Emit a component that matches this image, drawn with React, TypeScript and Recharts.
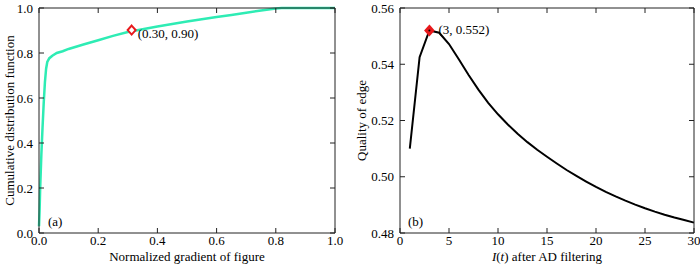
import { LineChart, Line, XAxis, YAxis, ReferenceDot, Label } from "recharts"

// (a) CDF of normalized gradient
const cdfX = [0, 0.002, 0.004, 0.008, 0.012, 0.016, 0.02, 0.024, 0.028, 0.035, 0.045, 0.06, 0.08, 0.1, 0.15, 0.2, 0.25, 0.3, 0.35, 0.4, 0.45, 0.5, 0.55, 0.6, 0.65, 0.7, 0.75, 0.8, 0.82, 0.9, 1.0]
const cdfY = [0.03, 0.1, 0.2, 0.35, 0.47, 0.58, 0.67, 0.73, 0.76, 0.777, 0.788, 0.8, 0.808, 0.818, 0.838, 0.857, 0.876, 0.893, 0.906, 0.918, 0.929, 0.94, 0.95, 0.96, 0.969, 0.979, 0.989, 0.998, 1.0, 1.0, 1.0]

// (b) edge quality vs iterations
const iterT = [1, 2, 3, 4, 5, 6, 7, 8, 9, 10, 11, 12, 13, 14, 15, 16, 17, 18, 19, 20, 21, 22, 23, 24, 25, 26, 27, 28, 29, 30]
const quality = [0.51, 0.5425, 0.552, 0.5512, 0.5472, 0.5418, 0.5362, 0.531, 0.5263, 0.5222, 0.5186, 0.5153, 0.5123, 0.5096, 0.5071, 0.5047, 0.5024, 0.5003, 0.4983, 0.4964, 0.4946, 0.493, 0.4915, 0.4901, 0.4888, 0.4876, 0.4865, 0.4855, 0.4846, 0.4837]

const ticksA = [0, 0.2, 0.4, 0.6, 0.8, 1.0]
const ticksBx = [0, 5, 10, 15, 20, 25, 30]
const ticksBy = [0.48, 0.5, 0.52, 0.54, 0.56]

const FONT = "'Liberation Serif', 'Times New Roman', serif"
const AXIS = "#222"

const cdfData = cdfX.map((x, i) => ({ x, y: cdfY[i] }))
const qualityData = iterT.map((x, i) => ({ x, y: quality[i] }))

const bottomTick = (digits: number) => (p: any) => (
  <g>
    <line x1={p.x} y1={p.y} x2={p.x} y2={p.y - 5} stroke={AXIS} />
    <text x={p.x} y={p.y + 12} textAnchor="middle" fontFamily={FONT} fontSize={13} fill="#000">
      {Number(p.payload.value).toFixed(digits)}
    </text>
  </g>
)

const leftTick = (digits: number) => (p: any) => (
  <g>
    <line x1={p.x} y1={p.y} x2={p.x + 5} y2={p.y} stroke={AXIS} />
    <text x={p.x - 6} y={p.y + 4.5} textAnchor="end" fontFamily={FONT} fontSize={13} fill="#000">
      {Number(p.payload.value).toFixed(digits)}
    </text>
  </g>
)

const topTick = (p: any) => <line x1={p.x} y1={p.y} x2={p.x} y2={p.y + 5} stroke={AXIS} />
const rightTick = (p: any) => <line x1={p.x} y1={p.y} x2={p.x - 5} y2={p.y} stroke={AXIS} />

const diamond = (cx: number, cy: number, fill: string) => (
  <polygon
    points={`${cx},${cy - 4.5} ${cx + 4},${cy} ${cx},${cy + 4.5} ${cx - 4},${cy}`}
    fill={fill}
    stroke="#e8191c"
    strokeWidth={2}
  />
)

// mirrored frame axes (top + right), ticks pointing inward
const frameAxes = (xDomain: number[], xTicks: number[], yDomain: number[], yTicks: number[]) => [
  <XAxis
    key="top"
    xAxisId="top"
    orientation="top"
    dataKey="x"
    type="number"
    domain={xDomain}
    ticks={xTicks}
    height={1}
    tickSize={0}
    tickMargin={0}
    tick={topTick}
    axisLine={{ stroke: AXIS }}
    interval={0}
  />,
  <YAxis
    key="right"
    yAxisId="right"
    orientation="right"
    type="number"
    domain={yDomain}
    ticks={yTicks}
    width={1}
    tickSize={0}
    tickMargin={0}
    tick={rightTick}
    axisLine={{ stroke: AXIS }}
    interval={0}
  />,
]

export default function App() {
  return (
    <div style={{ position: "absolute", left: 0, top: 0, width: 700, height: 265, background: "#fff" }}>
      <div style={{ position: "absolute", left: 0, top: 0 }}>
        <LineChart width={345} height={265} data={cdfData} margin={{ top: 7, right: 9, left: 0, bottom: 2 }}>
          <XAxis
            dataKey="x"
            type="number"
            domain={[0, 1]}
            ticks={ticksA}
            height={30}
            tickSize={0}
            tickMargin={0}
            tick={bottomTick(1)}
            axisLine={{ stroke: AXIS }}
            interval={0}
          >
            <Label
              content={({ viewBox }: any) => (
                <text x={viewBox.x + viewBox.width / 2} y={261} textAnchor="middle" fontFamily={FONT} fontSize={13} fill="#000">
                  Normalized gradient of figure
                </text>
              )}
            />
          </XAxis>
          <YAxis
            type="number"
            domain={[0, 1]}
            ticks={ticksA}
            width={39}
            tickSize={0}
            tickMargin={0}
            tick={leftTick(1)}
            axisLine={{ stroke: AXIS }}
            interval={0}
          >
            <Label
              content={({ viewBox }: any) => {
                const cy = viewBox.y + viewBox.height / 2
                return (
                  <text x={14} y={cy} transform={`rotate(-90, 14, ${cy})`} textAnchor="middle" fontFamily={FONT} fontSize={13} fill="#000">
                    Cumulative distribution function
                  </text>
                )
              }}
            />
          </YAxis>
          {frameAxes([0, 1], ticksA, [0, 1], ticksA)}
          <Line
            xAxisId="top"
            yAxisId="right"
            dataKey="y"
            stroke="none"
            dot={false}
            activeDot={false}
            legendType="none"
            isAnimationActive={false}
          />
          <Line
            dataKey="y"
            type="linear"
            stroke="#2eecb4"
            strokeWidth={2.5}
            dot={false}
            activeDot={false}
            isAnimationActive={false}
          />
          <ReferenceDot
            x={0.313}
            y={0.902}
            shape={(p: any) => (
              <g>
                {diamond(p.cx, p.cy, "#fff")}
                <text x={p.cx + 6} y={p.cy + 7.5} fontFamily={FONT} fontSize={13} fill="#000">
                  (0.30, 0.90)
                </text>
              </g>
            )}
          />
          <ReferenceDot
            x={0.03}
            y={0.031}
            shape={(p: any) => (
              <text x={p.cx} y={p.cy} fontFamily={FONT} fontSize={13} fill="#000">
                (a)
              </text>
            )}
          />
        </LineChart>
      </div>

      <div style={{ position: "absolute", left: 350, top: 0 }}>
        <LineChart width={350} height={265} data={qualityData} margin={{ top: 7, right: 5, left: 0, bottom: 2 }}>
          <XAxis
            dataKey="x"
            type="number"
            domain={[0, 30]}
            ticks={ticksBx}
            height={30}
            tickSize={0}
            tickMargin={0}
            tick={bottomTick(0)}
            axisLine={{ stroke: AXIS }}
            interval={0}
          >
            <Label
              content={({ viewBox }: any) => (
                <text x={viewBox.x + viewBox.width / 2} y={261} textAnchor="middle" fontFamily={FONT} fontSize={13} fill="#000">
                  <tspan fontStyle="italic">I</tspan>(<tspan fontStyle="italic">t</tspan>) after AD filtering
                </text>
              )}
            />
          </XAxis>
          <YAxis
            type="number"
            domain={[0.48, 0.56]}
            ticks={ticksBy}
            width={50}
            tickSize={0}
            tickMargin={0}
            tick={leftTick(2)}
            axisLine={{ stroke: AXIS }}
            interval={0}
          >
            <Label
              content={({ viewBox }: any) => {
                const cy = viewBox.y + viewBox.height / 2
                return (
                  <text x={16} y={cy} transform={`rotate(-90, 16, ${cy})`} textAnchor="middle" fontFamily={FONT} fontSize={13} fill="#000">
                    Quality of edge
                  </text>
                )
              }}
            />
          </YAxis>
          {frameAxes([0, 30], ticksBx, [0.48, 0.56], ticksBy)}
          <Line
            xAxisId="top"
            yAxisId="right"
            dataKey="y"
            stroke="none"
            dot={false}
            activeDot={false}
            legendType="none"
            isAnimationActive={false}
          />
          <Line
            dataKey="y"
            type="linear"
            stroke="#000"
            strokeWidth={2}
            dot={false}
            activeDot={false}
            isAnimationActive={false}
          />
          <ReferenceDot
            x={3}
            y={0.552}
            shape={(p: any) => (
              <g>
                {diamond(p.cx, p.cy, "#e8191c")}
                <circle cx={p.cx} cy={p.cy} r={1} fill="#000" />
                <text x={p.cx + 9} y={p.cy + 3} fontFamily={FONT} fontSize={13} fill="#000">
                  (3, 0.552)
                </text>
              </g>
            )}
          />
          <ReferenceDot
            x={0.82}
            y={0.4825}
            shape={(p: any) => (
              <text x={p.cx} y={p.cy} fontFamily={FONT} fontSize={13} fill="#000">
                (b)
              </text>
            )}
          />
        </LineChart>
      </div>
    </div>
  )
}
